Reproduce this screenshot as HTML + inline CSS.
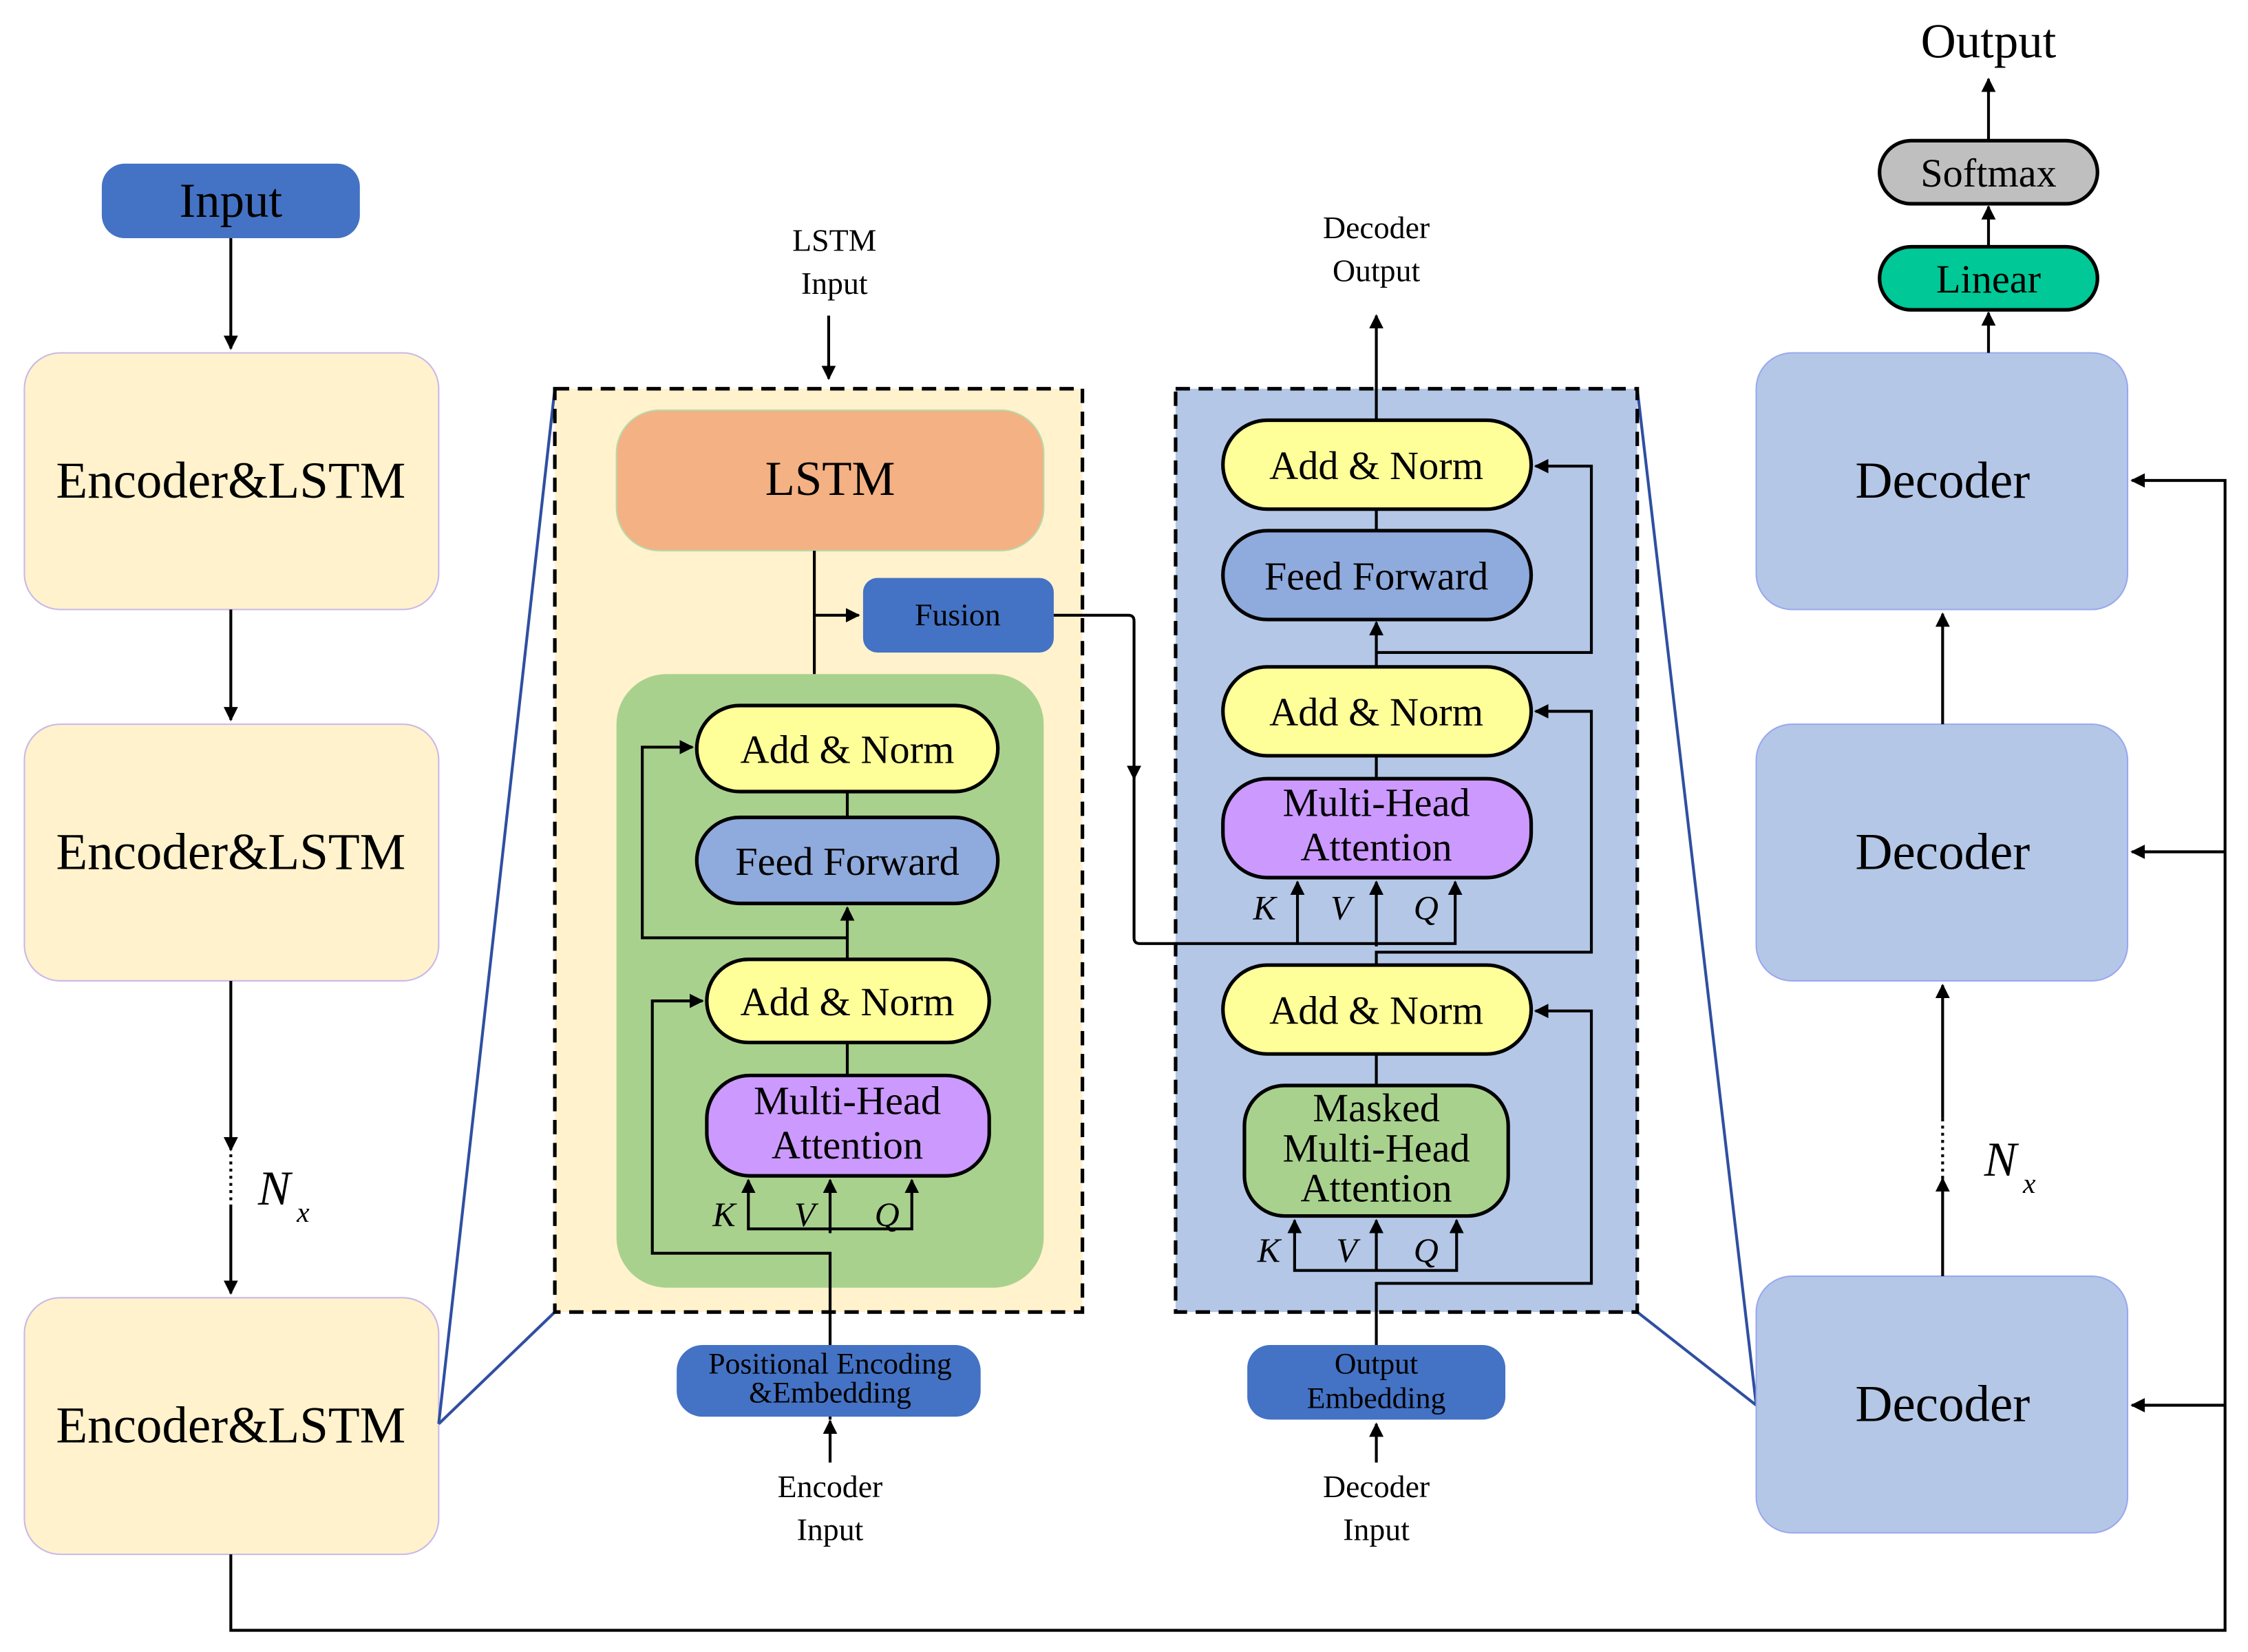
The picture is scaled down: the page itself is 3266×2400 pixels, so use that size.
<!DOCTYPE html>
<html><head><meta charset="utf-8"><style>html,body{margin:0;padding:0;background:#fff}svg{display:block}svg text{font-family:"Liberation Serif","DejaVu Serif",serif}</style></head><body>
<svg width="3266" height="2400" viewBox="0 0 1568 1152" xmlns="http://www.w3.org/2000/svg" style="font-family:'Liberation Serif',serif">
<defs>
<marker id="a" viewBox="0 0 10 10" refX="9" refY="5" markerWidth="5" markerHeight="5" orient="auto"><path d="M0,0L10,5L0,10z" fill="#000"/></marker>
</defs>
<rect width="1568" height="1152" fill="#fff"/>
<rect x="71" y="114" width="180" height="52" rx="16" fill="#4472C4"/>
<text x="161" y="151" font-size="34" text-anchor="middle">Input</text>
<g fill="#FFF2CC" stroke="#C9B8E8" stroke-width="1">
<rect x="17" y="246" width="289" height="179" rx="25"/>
<rect x="17" y="505" width="289" height="179" rx="25"/>
<rect x="17" y="905" width="289" height="179" rx="25"/>
</g>
<g font-size="36" text-anchor="middle">
<text x="161" y="347">Encoder&amp;LSTM</text>
<text x="161" y="606">Encoder&amp;LSTM</text>
<text x="161" y="1006">Encoder&amp;LSTM</text>
</g>
<g stroke="#000" stroke-width="2" fill="none">
<line x1="161" y1="166" x2="161" y2="243" marker-end="url(#a)"/>
<line x1="161" y1="425" x2="161" y2="502" marker-end="url(#a)"/>
<line x1="161" y1="684" x2="161" y2="802" marker-end="url(#a)"/>
<line x1="161" y1="805" x2="161" y2="840" stroke-dasharray="2,3"/>
<line x1="161" y1="840" x2="161" y2="902" marker-end="url(#a)"/>
<path d="M161,1084V1137H1552V335H1487" marker-end="url(#a)"/>
<path d="M1552,594H1487" marker-end="url(#a)"/>
<path d="M1552,980H1487" marker-end="url(#a)"/>
</g>
<text x="180" y="840" font-size="34" font-style="italic">N</text><text x="207" y="852" font-size="20" font-style="italic">x</text>
<g stroke="#2F4FA0" stroke-width="2">
<line x1="387" y1="271" x2="306" y2="993"/><line x1="387" y1="915" x2="306" y2="993"/>
<line x1="1142" y1="271" x2="1225" y2="980"/><line x1="1142" y1="915" x2="1225" y2="980"/>
</g>
<rect x="387" y="271" width="368" height="644" fill="#FFF2CC" stroke="#000" stroke-width="2.5" stroke-dasharray="10,6"/>
<rect x="820" y="271" width="322" height="644" fill="#B4C7E7" stroke="#000" stroke-width="2.5" stroke-dasharray="10,6"/>
<text x="582" y="175" font-size="22" text-anchor="middle">LSTM</text>
<text x="582" y="205" font-size="22" text-anchor="middle">Input</text>
<line x1="578" y1="220" x2="578" y2="264" stroke="#000" stroke-width="2" marker-end="url(#a)"/>
<rect x="430" y="286" width="298" height="98" rx="30" fill="#F4B183" stroke="#B8D8A8" stroke-width="1"/>
<text x="579" y="345" font-size="34" text-anchor="middle">LSTM</text>
<rect x="430" y="470" width="298" height="428" rx="35" fill="#A9D18E"/>
<rect x="602" y="403" width="133" height="52" rx="10" fill="#4472C4"/>
<text x="668" y="436" font-size="22" text-anchor="middle">Fusion</text>
<g stroke="#000" stroke-width="2" fill="none">
<line x1="568" y1="384" x2="568" y2="470"/>
<line x1="568" y1="429" x2="599" y2="429" marker-end="url(#a)"/>
<path d="M735,429H787Q791,429 791,433V543" marker-end="url(#a)"/>
<path d="M791,540V654Q791,658 795,658H960"/>
</g>
<g stroke="#000" stroke-width="2.5">
<rect x="486" y="492" width="210" height="60" rx="30" fill="#FFFF99"/>
<rect x="486" y="570" width="210" height="60" rx="30" fill="#8FAADC"/>
<rect x="493" y="669" width="197" height="58" rx="29" fill="#FFFF99"/>
<rect x="493" y="750" width="197" height="70" rx="30" fill="#CC99FF"/>
</g>
<g font-size="28" text-anchor="middle">
<text x="591" y="532">Add &amp; Norm</text>
<text x="591" y="610">Feed Forward</text>
<text x="591" y="708">Add &amp; Norm</text>
<text x="591" y="777">Multi-Head</text>
<text x="591" y="808">Attention</text>
</g>
<g stroke="#000" stroke-width="2" fill="none">
<line x1="591" y1="552" x2="591" y2="570"/>
<line x1="591" y1="669" x2="591" y2="633" marker-end="url(#a)"/>
<path d="M591,654H448V521H483" marker-end="url(#a)"/>
<line x1="591" y1="727" x2="591" y2="750"/>
<path d="M579,990V874H455V698H490" marker-end="url(#a)"/>
<line x1="579" y1="860" x2="579" y2="823" marker-end="url(#a)"/>
<path d="M579,857H522V823" marker-end="url(#a)"/>
<path d="M579,857H636V823" marker-end="url(#a)"/>
</g>
<g font-size="24" font-style="italic"><text x="497" y="855">K</text><text x="554" y="855">V</text><text x="610" y="855">Q</text></g>
<rect x="472" y="938" width="212" height="50" rx="18" fill="#4472C4"/>
<text x="579" y="958" font-size="21" text-anchor="middle">Positional Encoding</text>
<text x="579" y="978" font-size="21" text-anchor="middle">&amp;Embedding</text>
<line x1="579" y1="1020" x2="579" y2="991" stroke="#000" stroke-width="2" marker-end="url(#a)"/>
<text x="579" y="1044" font-size="22" text-anchor="middle">Encoder</text>
<text x="579" y="1074" font-size="22" text-anchor="middle">Input</text>
<text x="960" y="166" font-size="22" text-anchor="middle">Decoder</text>
<text x="960" y="196" font-size="22" text-anchor="middle">Output</text>
<g stroke="#000" stroke-width="2" fill="none">
<line x1="960" y1="293" x2="960" y2="220" marker-end="url(#a)"/>
<line x1="960" y1="355" x2="960" y2="370"/>
<line x1="960" y1="465" x2="960" y2="434" marker-end="url(#a)"/>
<path d="M960,455H1110V325H1071" marker-end="url(#a)"/>
<line x1="960" y1="527" x2="960" y2="543"/>
<path d="M960,673V664H1110V496H1071" marker-end="url(#a)"/>
<path d="M905,658V615" marker-end="url(#a)"/>
<path d="M960,660V615" marker-end="url(#a)"/>
<path d="M960,658H1015V615" marker-end="url(#a)"/>
<line x1="960" y1="735" x2="960" y2="757"/>
<path d="M960,938V895H1110V705H1071" marker-end="url(#a)"/>
<line x1="960" y1="886" x2="960" y2="851" marker-end="url(#a)"/>
<path d="M960,886H903V851" marker-end="url(#a)"/>
<path d="M960,886H1016V851" marker-end="url(#a)"/>
</g>
<g stroke="#000" stroke-width="2.5">
<rect x="853" y="293" width="215" height="62" rx="31" fill="#FFFF99"/>
<rect x="853" y="370" width="215" height="62" rx="31" fill="#8FAADC"/>
<rect x="853" y="465" width="215" height="62" rx="31" fill="#FFFF99"/>
<rect x="853" y="543" width="215" height="69" rx="31" fill="#CC99FF"/>
<rect x="853" y="673" width="215" height="62" rx="31" fill="#FFFF99"/>
<rect x="868" y="757" width="184" height="91" rx="28" fill="#A9D18E"/>
</g>
<g font-size="28" text-anchor="middle">
<text x="960" y="334">Add &amp; Norm</text>
<text x="960" y="411">Feed Forward</text>
<text x="960" y="506">Add &amp; Norm</text>
<text x="960" y="569">Multi-Head</text>
<text x="960" y="600">Attention</text>
<text x="960" y="714">Add &amp; Norm</text>
<text x="960" y="782">Masked</text>
<text x="960" y="810">Multi-Head</text>
<text x="960" y="838">Attention</text>
</g>
<g font-size="24" font-style="italic"><text x="874" y="641">K</text><text x="928" y="641">V</text><text x="986" y="641">Q</text>
<text x="877" y="880">K</text><text x="932" y="880">V</text><text x="986" y="880">Q</text></g>
<rect x="870" y="938" width="180" height="52" rx="16" fill="#4472C4"/>
<text x="960" y="958" font-size="21" text-anchor="middle">Output</text>
<text x="960" y="982" font-size="21" text-anchor="middle">Embedding</text>
<line x1="960" y1="1020" x2="960" y2="993" stroke="#000" stroke-width="2" marker-end="url(#a)"/>
<text x="960" y="1044" font-size="22" text-anchor="middle">Decoder</text>
<text x="960" y="1074" font-size="22" text-anchor="middle">Input</text>
<g fill="#B4C7E7" stroke="#9AA8EE" stroke-width="1">
<rect x="1225" y="246" width="259" height="179" rx="25"/>
<rect x="1225" y="505" width="259" height="179" rx="25"/>
<rect x="1225" y="890" width="259" height="179" rx="25"/>
</g>
<g font-size="36" text-anchor="middle">
<text x="1355" y="347">Decoder</text>
<text x="1355" y="606">Decoder</text>
<text x="1355" y="991">Decoder</text>
</g>
<g stroke="#000" stroke-width="2" fill="none">
<line x1="1355" y1="505" x2="1355" y2="428" marker-end="url(#a)"/>
<line x1="1355" y1="780" x2="1355" y2="687" marker-end="url(#a)"/>
<line x1="1355" y1="780" x2="1355" y2="822" stroke-dasharray="2,3"/>
<line x1="1355" y1="890" x2="1355" y2="822" marker-end="url(#a)"/>
<line x1="1387" y1="246" x2="1387" y2="218" marker-end="url(#a)"/>
<line x1="1387" y1="172" x2="1387" y2="144" marker-end="url(#a)"/>
<line x1="1387" y1="98" x2="1387" y2="55" marker-end="url(#a)"/>
</g>
<text x="1384" y="820" font-size="34" font-style="italic">N</text><text x="1411" y="832" font-size="20" font-style="italic">x</text>
<rect x="1311" y="172" width="152" height="44" rx="22" fill="#00C896" stroke="#000" stroke-width="2.5"/>
<text x="1387" y="204" font-size="28" text-anchor="middle">Linear</text>
<rect x="1311" y="98" width="152" height="44" rx="22" fill="#BFBFBF" stroke="#000" stroke-width="2.5"/>
<text x="1387" y="130" font-size="28" text-anchor="middle">Softmax</text>
<text x="1387" y="40" font-size="34" text-anchor="middle">Output</text>
</svg>
</body></html>
